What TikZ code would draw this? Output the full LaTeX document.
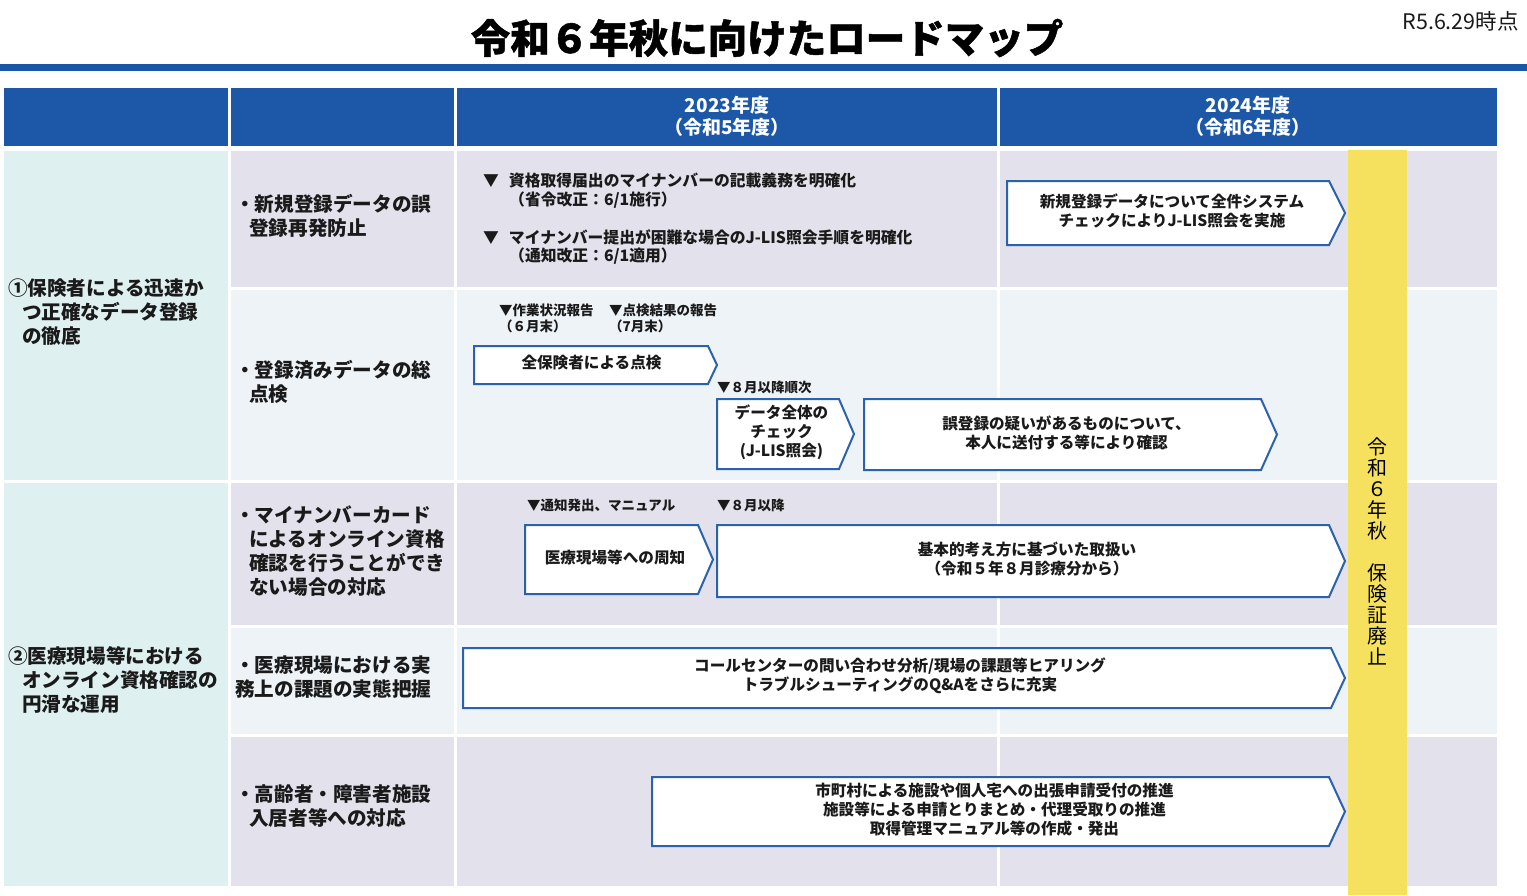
\documentclass[tikz,border=0pt]{standalone}
\usepackage{fontspec}
\setmainfont{Noto Sans CJK JP}
\newfontfamily\titlefont{Noto Sans CJK JP}[BoldFeatures={FakeBold=1.2}]
\definecolor{hdrblue}{HTML}{1C57A8}
\definecolor{ruleblue}{HTML}{1A56A8}
\definecolor{tealbg}{HTML}{DFF0F0}
\definecolor{lavbg}{HTML}{E3E1EC}
\definecolor{lightbg}{HTML}{EEF3F8}
\definecolor{yelbar}{HTML}{F5E15E}
\definecolor{chevblue}{HTML}{2A62AE}
\definecolor{txt}{HTML}{1A1A1A}
\tikzset{
  chevline/.style={draw=chevblue, line width=2pt, fill=white, line join=miter},
  chevtext/.style={font=\bfseries\fontsize{15.6}{19}\selectfont, align=center, inner sep=0pt, text=txt},
  lbl/.style={font=\bfseries\fontsize{19.6}{24}\selectfont, anchor=west, align=left, inner sep=0pt, text=txt},
  note/.style={font=\bfseries\fontsize{15.8}{19}\selectfont, anchor=west, align=left, inner sep=0pt, text=txt},
  smallnote/.style={font=\bfseries\fontsize{13.5}{16}\selectfont, anchor=west, align=left, inner sep=0pt, text=txt},
  hdr/.style={font=\bfseries\fontsize{19}{22}\selectfont, align=center, inner sep=0pt, text=white},
}
\newcommand\rmchev[7]{%
  \draw[chevline] (#2,#3) -- (#4,#3) -- (#6,{(#3+#5)/2}) -- (#4,#5) -- (#2,#5) -- cycle;
  \node[chevtext] (#1) at ({(#2+#6)/2-4},{(#3+#5)/2-2}) {#7};
}
\begin{document}
\begin{tikzpicture}[x=1pt,y=-1pt]
\useasboundingbox (0,0) rectangle (1527,895);
\fill[white] (0,0) rectangle (1527,895);
% title
\node[font=\titlefont\bfseries\fontsize{39.5}{42}\selectfont, inner sep=0pt, text=black] (title) at (767,38) {令和６年秋に向けたロードマップ};
\node[font=\fontsize{21.5}{24}\selectfont, anchor=east, inner sep=0pt, text=txt] (date) at (1519,21) {R5.6.29時点};
\fill[ruleblue] (0,64) rectangle (1527,71);
% header
\fill[hdrblue] (4,88) rectangle (228,146);
\fill[hdrblue] (231,88) rectangle (454,146);
\fill[hdrblue] (457,88) rectangle (997,146);
\fill[hdrblue] (1000,88) rectangle (1497,146);
\node[hdr] (h2023) at (727,116) {2023年度\\（令和5年度）};
\node[hdr] (h2024) at (1248,116) {2024年度\\（令和6年度）};
% category cells
\fill[tealbg] (4,151) rectangle (228,480);
\fill[tealbg] (4,483) rectangle (228,886);
% rows
\foreach \ya/\yb/\c in {151/287/lavbg, 290/480/lightbg, 483/625/lavbg, 628/734/lightbg, 737/886/lavbg}{
  \fill[\c] (231,\ya) rectangle (454,\yb);
  \fill[\c] (457,\ya) rectangle (997,\yb);
  \fill[\c] (1000,\ya) rectangle (1497,\yb);
}
% yellow bar
\fill[yelbar] (1348,150) rectangle (1407,895);
\node[font=\fontsize{20}{21}\selectfont, align=center, inner sep=0pt, text=black] (abolish) at (1377,551) {令\\和\\６\\年\\秋\\　\\保\\険\\証\\廃\\止};
% left labels
\node[lbl] (cat1) at (8,312) {①保険者による迅速か\\\hspace*{14pt}つ正確なデータ登録\\\hspace*{14pt}の徹底};
\node[lbl] (cat2) at (8,680) {②医療現場等における\\\hspace*{14pt}オンライン資格確認の\\\hspace*{14pt}円滑な運用};
\node[lbl] (it1) at (235,215.5) {・新規登録データの誤\\\hspace*{14pt}登録再発防止};
\node[lbl] (it2) at (235,381.5) {・登録済みデータの総\\\hspace*{14pt}点検};
\node[lbl] (it3) at (235,551) {・マイナンバーカード\\\hspace*{14pt}によるオンライン資格\\\hspace*{14pt}確認を行うことができ\\\hspace*{14pt}ない場合の対応};
\node[lbl] (it4) at (235,677) {・医療現場における実\\務上の課題の実態把握};
\node[lbl] (it5) at (235,806) {・高齢者・障害者施設\\\hspace*{14pt}入居者等への対応};
% row 1 notes
\node[note] (n1) at (483,181) {▼\hspace{10pt}資格取得届出のマイナンバーの記載義務を明確化};
\node[note] (n1b) at (509,200) {（省令改正：6/1施行）};
\node[note] (n2) at (483,237) {▼\hspace{10pt}マイナンバー提出が困難な場合のJ-LIS照会手順を明確化};
\node[note] (n2b) at (509,256) {（通知改正：6/1適用）};
% row 2 notes
\node[smallnote] (n3) at (499,310) {▼作業状況報告};
\node[smallnote] (n3b) at (499,326) {（６月末）};
\node[smallnote] (n4) at (609,310) {▼点検結果の報告};
\node[smallnote] (n4b) at (609,326) {（7月末）};
\node[smallnote] (n5) at (717,387) {▼８月以降順次};
% row 3 notes
\node[smallnote] (n6) at (527,505) {▼通知発出、マニュアル};
\node[smallnote] (n7) at (717,505) {▼８月以降};
% chevrons
\rmchev{c1}{1007}{181}{1329}{245}{1345}{新規登録データについて全件システム\\チェックによりJ-LIS照会を実施}
\rmchev{c2}{474}{346}{708}{384}{717}{全保険者による点検}
\rmchev{c3}{717}{399}{839}{469}{854}{データ全体の\\チェック\\(J-LIS照会)}
\rmchev{c4}{864}{399}{1261}{470}{1277}{誤登録の疑いがあるものについて、\\本人に送付する等により確認}
\rmchev{c5}{525}{525}{698}{594}{713}{医療現場等への周知}
\rmchev{c6}{717}{525}{1329}{597}{1345}{基本的考え方に基づいた取扱い\\（令和５年８月診療分から）}
\rmchev{c7}{463}{648}{1331}{708}{1345}{コールセンターの問い合わせ分析/現場の課題等ヒアリング\\トラブルシューティングのQ\&Aをさらに充実}
\rmchev{c8}{652}{777}{1329}{846}{1345}{市町村による施設や個人宅への出張申請受付の推進\\施設等による申請とりまとめ・代理受取りの推進\\取得管理マニュアル等の作成・発出}
\end{tikzpicture}
\end{document}
